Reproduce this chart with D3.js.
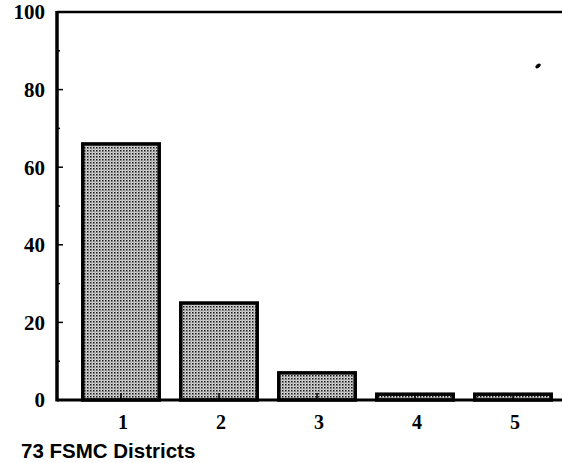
<!DOCTYPE html>
<html>
<head>
<meta charset="utf-8">
<script src="https://cdn.jsdelivr.net/npm/d3@7"></script>
<style>
  body { margin: 0; background: #fff; }
  svg { display: block; }
</style>
</head>
<body>
<svg id="chart" width="562" height="463"></svg>
<script>
// data
var categories = ["1", "2", "3", "4", "5"];
var values = [66, 25, 7, 1.5, 1.5];
var yTicks = [0, 20, 40, 60, 80, 100];
var yMinor = [10, 30, 50, 70, 90];
var xTitle = "73 FSMC Districts";

// note: "top" is taken by window.top, so plot edges get their own names
var plotLeft = 57, plotTop = 12, plotBottom = 400, plotRight = 562;

var svg = d3.select("#chart");

// dotted fill like the halftone in the scan
var defs = svg.append("defs");
var pat = defs.append("pattern")
    .attr("id", "dots")
    .attr("width", 3)
    .attr("height", 3)
    .attr("patternUnits", "userSpaceOnUse");
pat.append("rect").attr("width", 3).attr("height", 3).attr("fill", "#dcdcdc");
pat.append("rect").attr("x", 0).attr("y", 0).attr("width", 1.5).attr("height", 1.5).attr("fill", "#111");
pat.append("rect").attr("x", 1.5).attr("y", 1.5).attr("width", 1).attr("height", 1).attr("fill", "#555");

var x = d3.scaleBand()
    .domain(categories)
    .range([72, 562])
    .paddingInner(0.22)
    .paddingOuter(0.11);

var y = d3.scaleLinear()
    .domain([0, 100])
    .range([plotBottom, plotTop]);

// bars
svg.selectAll("rect.bar")
  .data(values)
  .enter().append("rect")
    .attr("class", "bar")
    .attr("x", function(d, i) { return x(categories[i]); })
    .attr("y", function(d) { return y(d); })
    .attr("width", x.bandwidth())
    .attr("height", function(d) { return y(0) - y(d); })
    .attr("fill", "url(#dots)")
    .attr("stroke", "#000")
    .attr("stroke-width", 3.5);

// frame: left, top and bottom lines
svg.append("line")
    .attr("x1", plotLeft).attr("x2", plotLeft)
    .attr("y1", plotTop - 1).attr("y2", plotBottom + 1.5)
    .attr("stroke", "#000").attr("stroke-width", 3.5);
svg.append("line")
    .attr("x1", plotLeft).attr("x2", plotRight)
    .attr("y1", plotTop).attr("y2", plotTop)
    .attr("stroke", "#000").attr("stroke-width", 2.5);
svg.append("line")
    .attr("x1", plotLeft).attr("x2", plotRight)
    .attr("y1", plotBottom).attr("y2", plotBottom)
    .attr("stroke", "#000").attr("stroke-width", 3);

// y ticks point inward
svg.selectAll("line.ytick")
  .data(yTicks.slice(1, 5))
  .enter().append("line")
    .attr("class", "ytick")
    .attr("x1", plotLeft).attr("x2", plotLeft + 6)
    .attr("y1", function(d) { return y(d); })
    .attr("y2", function(d) { return y(d); })
    .attr("stroke", "#000").attr("stroke-width", 1.5);
svg.selectAll("line.yminor")
  .data(yMinor)
  .enter().append("line")
    .attr("class", "yminor")
    .attr("x1", plotLeft).attr("x2", plotLeft + 3)
    .attr("y1", function(d) { return y(d); })
    .attr("y2", function(d) { return y(d); })
    .attr("stroke", "#000").attr("stroke-width", 1.5);

svg.selectAll("text.ylab")
  .data(yTicks)
  .enter().append("text")
    .attr("class", "ylab")
    .attr("x", 45)
    .attr("y", function(d) { return y(d); })
    .attr("dy", "0.35em")
    .attr("text-anchor", "end")
    .attr("font-family", "Liberation Serif, Times New Roman, serif")
    .attr("font-weight", "bold")
    .attr("font-size", 21)
    .text(function(d) { return d; });

// x ticks and labels
svg.selectAll("line.xtick")
  .data(categories)
  .enter().append("line")
    .attr("class", "xtick")
    .attr("x1", function(d) { return x(d) + x.bandwidth() / 2; })
    .attr("x2", function(d) { return x(d) + x.bandwidth() / 2; })
    .attr("y1", plotBottom).attr("y2", plotBottom - 7)
    .attr("stroke", "#000").attr("stroke-width", 1.5);

svg.selectAll("text.xlab")
  .data(categories)
  .enter().append("text")
    .attr("class", "xlab")
    .attr("x", function(d) { return x(d) + x.bandwidth() / 2 + 2; })
    .attr("y", 429)
    .attr("text-anchor", "middle")
    .attr("font-family", "Liberation Serif, Times New Roman, serif")
    .attr("font-weight", "bold")
    .attr("font-size", 20)
    .text(function(d) { return d; });

svg.append("text")
    .attr("x", 21)
    .attr("y", 458)
    .attr("font-family", "Liberation Sans, Arial, sans-serif")
    .attr("font-weight", "bold")
    .attr("font-size", 20.5)
    .text(xTitle);

// stray speck from the scan
svg.append("ellipse")
    .attr("cx", 538).attr("cy", 66)
    .attr("rx", 3).attr("ry", 1.8)
    .attr("transform", "rotate(-35,538,66)")
    .attr("fill", "#000");
</script>
</body>
</html>
